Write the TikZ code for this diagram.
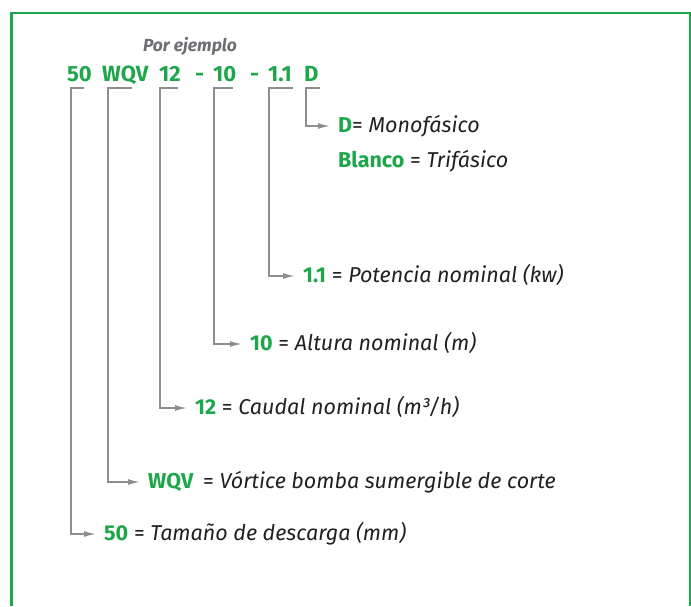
\documentclass[tikz,border=0pt]{standalone}
\usepackage{fontspec}
\setmainfont{Fira Sans}
\usepackage{tikz}
\usetikzlibrary{arrows.meta}
\definecolor{codegreen}{HTML}{1DA64A}
\definecolor{linkgray}{HTML}{8D8E90}
\definecolor{notegray}{HTML}{6D6E71}
\definecolor{textblack}{HTML}{231F20}
\newcommand{\codekey}[1]{\textcolor{codegreen}{\bfseries #1}}
\tikzset{
    code/.style={anchor=base west, inner sep=0pt, text=codegreen,
        font=\fontsize{22}{26}\selectfont\bfseries},
    meaning/.style={anchor=base west, inner sep=0pt, text=textblack,
        text height=13pt, text depth=1pt, font=\fontsize{21.5}{25}\selectfont},
    link/.style={draw=linkgray, line width=1.5pt,
        -{Latex[length=12pt,width=6pt]}, shorten >=8pt},
    frame/.style={draw=codegreen, line width=2.6pt}}

\begin{document}
\begin{tikzpicture}[x=1pt, y=-1pt]

                    \useasboundingbox (0,0) rectangle (691,606);
                    \draw[frame] (11.3,606) -- (11.3,13) -- (690,13) -- (690,606);

                    \node[anchor=base, inner sep=0pt, text=notegray, font=\fontsize{17.5}{21}\selectfont\bfseries\itshape] (ejemplo) at (190,51) {Por ejemplo};

                    \node[code] (c50) at (67,81) {50};
                    \node[code] (cWQV) at (102,81) {WQV};
                    \node[code] (c12) at (159,81) {12};
                    \node[code] (dash1) at (195,81) {-};
                    \node[code] (c10) at (213,81) {10};
                    \node[code] (dash2) at (250,81) {-};
                    \node[code] (c11) at (268,81) {1.1};
                    \node[code] (cD) at (304,81) {D};

                    \node[meaning] (lD) at (338,132) {\codekey{D}= \itshape Monofásico};
                    \node[meaning] (lBlanco) at (338,167) {\codekey{Blanco} = \itshape Trifásico};
                    \node[meaning] (l11) at (303,282) {\codekey{1.1} = \itshape Potencia nominal (kw)};
                    \node[meaning] (l10) at (250,350) {\codekey{10} = \itshape Altura nominal (m)};
                    \node[meaning] (l12) at (195,414) {\codekey{12} = \itshape Caudal nominal (m³/h)};
                    \node[meaning] (lWQV) at (148,488) {\codekey{WQV}\hspace{4pt} = \itshape Vórtice bomba sumergible de corte};
                    \node[meaning] (l50) at (104,540) {\codekey{50} = \itshape Tamaño de descarga (mm)};

                    \draw[link] ([shift={(16,7)}]cD.base west) -- ([shift={(2,7)}]cD.base west) |- (lD.west);
                    \draw[link] ([shift={(25,7)}]c11.base west) -- ([shift={(1,7)}]c11.base west) |- (l11.west);
                    \draw[link] ([shift={(20,7)}]c10.base west) -- ([shift={(1,7)}]c10.base west) |- (l10.west);
                    \draw[link] ([shift={(19,7)}]c12.base west) -- ([shift={(1,7)}]c12.base west) |- (l12.west);
                    \draw[link] ([shift={(30,7)}]cWQV.base west) -- ([shift={(6,7)}]cWQV.base west) |- (lWQV.west);
                    \draw[link] ([shift={(17,7)}]c50.base west) -- ([shift={(4,7)}]c50.base west) |- (l50.west);

                \end{tikzpicture}
\end{document}
